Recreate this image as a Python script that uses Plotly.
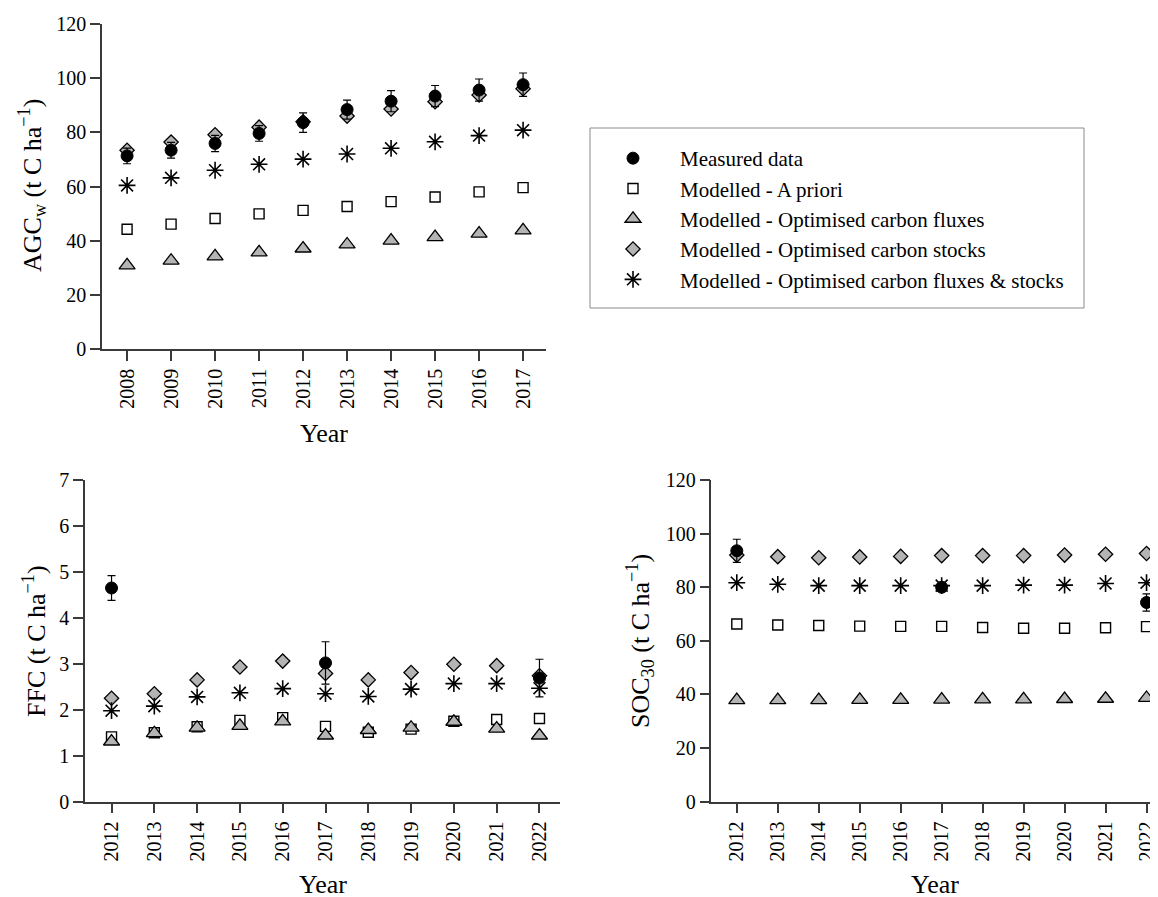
import plotly.graph_objects as go

# The page body adds an 8 px offset, so the figure is 8 px smaller than the window
# and reference pixel positions are shifted by that offset.
OFF = 8
W, H = 1158 - OFF, 897 - OFF

# ---------------- data ----------------
years_agc = [2008, 2009, 2010, 2011, 2012, 2013, 2014, 2015, 2016, 2017]
measured_agc = [71.3, 73.4, 75.9, 79.6, 83.6, 88.4, 91.5, 93.4, 95.6, 97.6]
measured_agc_err = [2.9, 2.9, 3.0, 2.9, 3.6, 3.5, 3.9, 3.9, 4.1, 4.3]
apriori_agc = [44.2, 46.1, 48.2, 49.9, 51.2, 52.6, 54.4, 56.1, 58.0, 59.6]
fluxes_agc = [30.9, 32.6, 34.2, 35.7, 37.1, 38.6, 40.0, 41.3, 42.6, 43.8]
stocks_agc = [73.4, 76.4, 79.1, 81.9, 83.9, 86.0, 88.6, 91.3, 93.8, 96.1]
both_agc = [60.4, 63.2, 66.0, 68.2, 70.1, 72.0, 74.1, 76.5, 78.8, 80.8]

years_soil = [2012, 2013, 2014, 2015, 2016, 2017, 2018, 2019, 2020, 2021, 2022]
measured_ffc = [4.65, None, None, None, None, 3.02, None, None, None, None, 2.69]
measured_ffc_err = [0.27, None, None, None, None, 0.46, None, None, None, None, 0.41]
apriori_ffc = [1.41, 1.50, 1.63, 1.77, 1.83, 1.64, 1.51, 1.58, 1.75, 1.79, 1.81]
fluxes_ffc = [1.31, 1.49, 1.61, 1.65, 1.75, 1.44, 1.56, 1.61, 1.74, 1.59, 1.44]
stocks_ffc = [2.25, 2.35, 2.65, 2.93, 3.06, 2.79, 2.65, 2.81, 2.99, 2.96, 2.74]
both_ffc = [1.98, 2.08, 2.28, 2.37, 2.46, 2.35, 2.29, 2.45, 2.57, 2.57, 2.47]

measured_soc = [93.6, None, None, None, None, 80.0, None, None, None, None, 74.3]
measured_soc_err = [4.3, None, None, None, None, 1.0, None, None, None, None, 3.2]
apriori_soc = [66.3, 65.9, 65.7, 65.5, 65.4, 65.4, 65.0, 64.7, 64.7, 64.9, 65.3]
fluxes_soc = [37.9, 37.9, 37.9, 38.0, 38.0, 38.1, 38.2, 38.2, 38.3, 38.4, 38.7]
stocks_soc = [92.0, 91.4, 91.0, 91.3, 91.5, 91.8, 91.8, 91.8, 92.0, 92.3, 92.6]
both_soc = [81.7, 81.1, 80.6, 80.6, 80.6, 80.6, 80.6, 80.8, 80.8, 81.4, 81.7]

series_names = [
    "Measured data",
    "Modelled - A priori",
    "Modelled - Optimised carbon fluxes",
    "Modelled - Optimised carbon stocks",
    "Modelled - Optimised carbon fluxes & stocks",
]

# ---------------- styles ----------------
FONT = "Liberation Serif"
GREY = "rgb(180,180,180)"
AX = "#3a3a3a"

styles = {
    "Measured data": dict(symbol="circle", size=12, color="black",
                          line=dict(color="black", width=1)),
    "Modelled - A priori": dict(symbol="square", size=10, color="white",
                                line=dict(color="black", width=1.4)),
    "Modelled - Optimised carbon fluxes": dict(symbol="triangle-up", size=14, color=GREY,
                                               line=dict(color="black", width=1.3)),
    "Modelled - Optimised carbon stocks": dict(symbol="diamond", size=11, color=GREY,
                                               line=dict(color="black", width=1.3)),
    "Modelled - Optimised carbon fluxes & stocks": dict(symbol="asterisk-open", size=14, color="black",
                                                        line=dict(color="black", width=1.6)),
}
rank = {n: i + 1 for i, n in enumerate(series_names)}

fig = go.Figure()

panels = [
    ("x", "y", years_agc, measured_agc, measured_agc_err, apriori_agc, fluxes_agc, stocks_agc, both_agc, True),
    ("x2", "y2", years_soil, measured_ffc, measured_ffc_err, apriori_ffc, fluxes_ffc, stocks_ffc, both_ffc, False),
    ("x3", "y3", years_soil, measured_soc, measured_soc_err, apriori_soc, fluxes_soc, stocks_soc, both_soc, False),
]

for xa, ya, yrs, meas, merr, apri, flx, stk, bth, show in panels:
    draw_order = [
        ("Modelled - A priori", apri, None),
        ("Modelled - Optimised carbon fluxes", flx, None),
        ("Modelled - Optimised carbon stocks", stk, None),
        ("Modelled - Optimised carbon fluxes & stocks", bth, None),
        ("Measured data", meas, merr),
    ]
    for name, vals, err in draw_order:
        tr = dict(
            x=yrs, y=vals, mode="markers", name=name, xaxis=xa, yaxis=ya,
            marker=styles[name], legendgroup=name, showlegend=show,
            legendrank=rank[name], cliponaxis=False,
        )
        if err is not None:
            tr["error_y"] = dict(type="data", array=err, visible=True,
                                 color="black", thickness=1.2, width=4)
        fig.add_trace(go.Scatter(**tr))

def px_x(p):
    return min(1.0, (p - OFF) / W)

def px_y(p):
    return (H - (p - OFF)) / H

axis_common = dict(
    showline=True, linecolor=AX, linewidth=1.5, ticks="outside", ticklen=10,
    tickwidth=1.5, tickcolor=AX, showgrid=False, zeroline=False, automargin=False,
    tickfont=dict(family=FONT, size=20, color="black"),
)

fig.update_layout(
    width=W, height=H,
    autosize=False,
    margin=dict(l=0, r=0, t=0, b=0, pad=0),
    paper_bgcolor="white", plot_bgcolor="white",
    font=dict(family=FONT, color="black"),
    xaxis=dict(domain=[px_x(102), px_x(546.4)], range=[2007.43, 2017.53],
               tickvals=years_agc, tickangle=-90, anchor="y", **axis_common),
    yaxis=dict(domain=[px_y(349), px_y(24)], range=[0, 120],
               tickvals=[0, 20, 40, 60, 80, 100, 120], anchor="x", **axis_common),
    xaxis2=dict(domain=[px_x(85), px_x(560)], range=[2011.38, 2022.48],
                tickvals=years_soil, tickangle=-90, anchor="y2", **axis_common),
    yaxis2=dict(domain=[px_y(801.7), px_y(480)], range=[0, 7],
                tickvals=[0, 1, 2, 3, 4, 5, 6, 7], anchor="x2", **axis_common),
    xaxis3=dict(domain=[px_x(711.4), 1.0], range=[2011.38, 2022.28],
                tickvals=years_soil, tickangle=-90, anchor="y3", **axis_common),
    yaxis3=dict(domain=[px_y(801.7), px_y(480)], range=[0, 120],
                tickvals=[0, 20, 40, 60, 80, 100, 120], anchor="x3", **axis_common),
    showlegend=True,
    legend=dict(
        x=px_x(586), y=px_y(138), xanchor="left", yanchor="top",
        bgcolor="rgba(0,0,0,0)", borderwidth=0, itemwidth=84,
        font=dict(family=FONT, size=21, color="black"),
        traceorder="normal",
    ),
    shapes=[dict(type="rect", xref="paper", yref="paper",
                 x0=px_x(590), x1=px_x(1084), y0=px_y(308), y1=px_y(128),
                 line=dict(color="#8a8a8a", width=1), fillcolor="rgba(0,0,0,0)")],
)

title_font = dict(family=FONT, size=26, color="black")
annots = [
    ("AGC<sub>w</sub> (t C ha<sup>−1</sup>)", 32, 186, -90),
    ("Year", 324, 433, 0),
    ("FFC (t C ha<sup>−1</sup>)", 34, 641, -90),
    ("Year", 322.5, 884, 0),
    ("SOC<sub>30</sub> (t C ha<sup>−1</sup>)", 640, 641, -90),
    ("Year", 934.5, 884, 0),
]
for text, ax_, ay_, ang in annots:
    fig.add_annotation(text=text, x=px_x(ax_), y=px_y(ay_), xref="paper", yref="paper",
                       xanchor="center", yanchor="middle", showarrow=False,
                       textangle=ang, font=title_font, height=22 if ang == 0 else None)

fig.write_html("out.html")
